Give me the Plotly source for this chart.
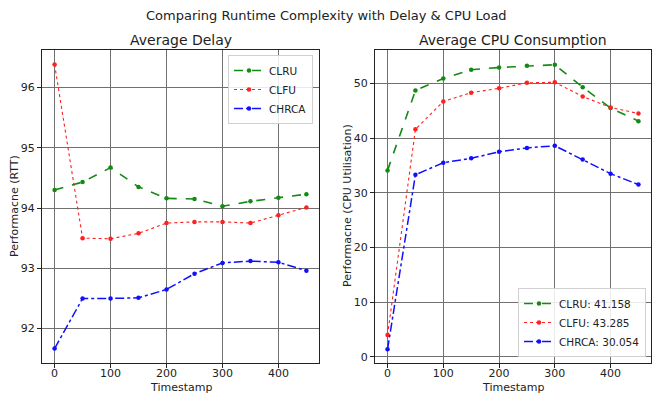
import plotly.graph_objects as go

timestamps = [0, 50, 100, 150, 200, 250, 300, 350, 400, 450]

delay_clru = [94.30, 94.43, 94.67, 94.35, 94.16, 94.15, 94.03, 94.11, 94.17, 94.23]
delay_clfu = [96.38, 93.50, 93.49, 93.58, 93.75, 93.77, 93.77, 93.75, 93.88, 94.01]
delay_chrca = [91.67, 92.50, 92.50, 92.51, 92.65, 92.91, 93.09, 93.12, 93.10, 92.96]

cpu_clru = [34.1, 48.7, 50.9, 52.5, 52.9, 53.2, 53.4, 49.3, 45.5, 43.1]
cpu_clfu = [4.0, 41.6, 46.7, 48.3, 49.1, 50.1, 50.2, 47.6, 45.6, 44.5]
cpu_chrca = [1.4, 33.3, 35.5, 36.3, 37.5, 38.2, 38.6, 36.1, 33.5, 31.5]

left_names = ["CLRU", "CLFU", "CHRCA"]
right_names = ["CLRU: 41.158", "CLFU: 43.285", "CHRCA: 30.054"]

colors = ["#138a13", "#ff2020", "#1010ff"]
dashes = ["dash", "dot", "dashdot"]
widths = [1.6, 1.1, 1.5]

W, H = 652, 398
FONT = "DejaVu Sans"
L, R, T, B = 42, 651, 50, 363   # plot region in pixels
PW, PH = R - L, B - T

fig = go.Figure()

for ys, name, c, d, w in zip([delay_clru, delay_clfu, delay_chrca], left_names, colors, dashes, widths):
    fig.add_trace(go.Scatter(x=timestamps, y=ys, name=name, mode="lines+markers",
                             line=dict(color=c, dash=d, width=w),
                             marker=dict(color=c, size=4.5),
                             xaxis="x", yaxis="y", legend="legend"))
for ys, name, c, d, w in zip([cpu_clru, cpu_clfu, cpu_chrca], right_names, colors, dashes, widths):
    fig.add_trace(go.Scatter(x=timestamps, y=ys, name=name, mode="lines+markers",
                             line=dict(color=c, dash=d, width=w),
                             marker=dict(color=c, size=4.5),
                             xaxis="x2", yaxis="y2", legend="legend2"))

def px(x):
    return (x - L) / PW

def py(y):
    return (B - y) / PH

axis_common = dict(showline=True, mirror=True, linecolor="#222222", linewidth=1,
                   ticks="outside", ticklen=4, tickcolor="#222222", automargin=False,
                   showgrid=True, gridcolor="#707070", gridwidth=1, zeroline=False,
                   tickfont=dict(family=FONT, size=11, color="#222222"))

def ann(text, x, y, size, angle=0):
    return dict(text=text, x=px(x), y=py(y), xref="paper", yref="paper", showarrow=False,
                font=dict(family=FONT, size=size, color="#222222"), textangle=angle,
                xanchor="center", yanchor="middle")

fig.update_layout(
    width=W, height=H,
    margin=dict(l=L, r=W - R, t=T, b=H - B, autoexpand=False),
    plot_bgcolor="white", paper_bgcolor="white",
    font=dict(family=FONT, color="#222222"),
    showlegend=True,
    xaxis=dict(domain=[px(42), px(319)], range=[-22.5, 472.5], tickvals=[0, 100, 200, 300, 400],
               anchor="y", ticklabelstandoff=-4, **axis_common),
    yaxis=dict(domain=[0, 1], range=[91.43, 96.62], tickvals=[92, 93, 94, 95, 96],
               anchor="x", **axis_common),
    xaxis2=dict(domain=[px(375), 1], range=[-22.5, 472.5], tickvals=[0, 100, 200, 300, 400],
                anchor="y2", ticklabelstandoff=-4, **axis_common),
    yaxis2=dict(domain=[0, 1], range=[-1.1, 56.1], tickvals=[0, 10, 20, 30, 40, 50],
                anchor="x2", **axis_common),
    legend=dict(x=px(313), y=py(55), xanchor="right", yanchor="top",
                bgcolor="rgba(255,255,255,0.85)", bordercolor="#d0d0d0", borderwidth=1,
                font=dict(family=FONT, size=10.5), itemwidth=30, tracegroupgap=0),
    legend2=dict(x=px(646), y=py(357), xanchor="right", yanchor="bottom",
                 bgcolor="rgba(255,255,255,0.85)", bordercolor="#d0d0d0", borderwidth=1,
                 font=dict(family=FONT, size=10.5), itemwidth=30, tracegroupgap=0),
    annotations=[
        ann("Comparing Runtime Complexity with Delay & CPU Load", 326, 15, 13),
        ann("Average Delay", 180.5, 40, 14),
        ann("Average CPU Consumption", 513, 40, 14),
        ann("Timestamp", 180.5, 387, 11),
        ann("Timestamp", 513, 387, 11),
        ann("Performacne (RTT)", 14, 206, 11, -90),
        ann("Performacne (CPU Utilisation)", 347, 206, 11, -90),
    ],
)

fig.write_html("out.html", config={"displayModeBar": False},
               post_script="document.body.style.margin='0px';document.body.style.overflow='hidden';")
